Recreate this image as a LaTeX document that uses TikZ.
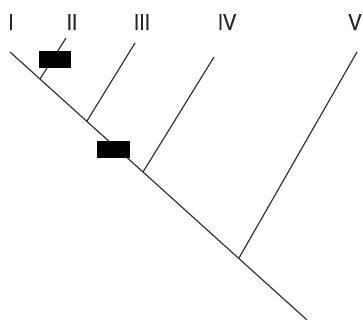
\documentclass[tikz,border=0pt]{standalone}
\usepackage{fontspec}
\setmainfont{Liberation Sans}
\begin{document}
\begin{tikzpicture}[x=1pt,y=-1pt,
  branch/.style={draw=black!80,line width=1.2pt},
  taxon/.style={anchor=base,inner sep=0pt,font=\fontsize{23}{23}\selectfont\addfontfeature{FakeStretch=0.85,FakeBold=0.6},text=black!85},
  mark box/.style={fill=black,draw=none,minimum width=32pt,minimum height=17pt,inner sep=0pt}]
\useasboundingbox (0,0) rectangle (363,320);
% main stem
\coordinate (root) at (10,52);
\coordinate (tip) at (307,320);
\coordinate (j2) at (40,79);
\coordinate (j3) at (87,121);
\coordinate (j4) at (143,172);
\coordinate (j5) at (239,258);
\coordinate (e2) at (66,38);
\coordinate (e3) at (135,43);
\coordinate (e4) at (214,57);
\coordinate (e5) at (357,52);
\draw[branch] (root) -- (tip);
\draw[branch] (j2) -- (e2);
\draw[branch] (j3) -- (e3);
\draw[branch] (j4) -- (e4);
\draw[branch] (j5) -- (e5);
% labels
\node[taxon] (l1) at (11,30) {I};
\node[taxon] (l2) at (72,30) {II};
\node[taxon] (l3) at (142,30) {III};
\node[taxon] (l4) at (227,30) {IV};
\node[taxon] (l5) at (355,30) {V};
% character boxes
\node[mark box] (b1) at (55,59.5) {};
\node[mark box,minimum width=33pt] (b2) at (113,149.5) {};
\end{tikzpicture}
\end{document}
